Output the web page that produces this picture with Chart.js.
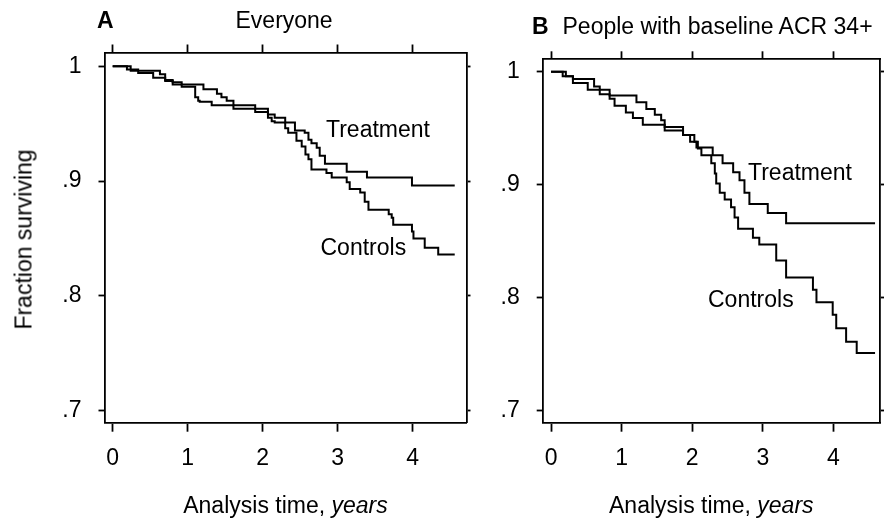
<!DOCTYPE html>
<html>
<head>
<meta charset="utf-8">
<script src="https://cdn.jsdelivr.net/npm/chart.js@4.4.1/dist/chart.umd.min.js"></script>
<style>
  body { margin: 0; background: #fff; }
  #wrap { position: relative; width: 885px; height: 521px; overflow: hidden; }
  canvas { position: absolute; top: 0; }
  .lbl { position: absolute; font: 23px "Liberation Sans", Arial, Helvetica, sans-serif; line-height: 23px; color: #000; white-space: nowrap; }
  .b { font-weight: bold; }
  .ctr { width: 400px; text-align: center; }
</style>
</head>
<body>
<div id="wrap">
  <canvas id="chartA" width="475" height="521" style="left:0"></canvas>
  <canvas id="chartB" width="410" height="521" style="left:475px"></canvas>

  <div class="lbl b" style="left:97px;top:8.5px">A</div>
  <div class="lbl" style="left:235.5px;top:8.5px">Everyone</div>
  <div class="lbl b" style="left:532px;top:14.8px">B</div>
  <div class="lbl" style="left:562.5px;top:14.8px">People with baseline ACR 34+</div>

  <div class="lbl" style="left:326px;top:118px">Treatment</div>
  <div class="lbl" style="left:320.5px;top:236.3px">Controls</div>
  <div class="lbl" style="left:748px;top:160.7px">Treatment</div>
  <div class="lbl" style="left:708px;top:287.5px">Controls</div>

  <div class="lbl ctr" style="left:85.5px;top:493.5px">Analysis time, <i>years</i></div>
  <div class="lbl ctr" style="left:511.3px;top:493.5px">Analysis time, <i>years</i></div>
  <div class="lbl ctr" style="left:-176px;top:227.5px;transform:rotate(-90deg)">Fraction surviving</div>
</div>

<script>
// axis ticks
var xTicks = [0, 1, 2, 3, 4];
var yTicks = [0.7, 0.8, 0.9, 1];

// A: everyone
var timeTreatA = [0, 0.24, 0.63, 0.70, 0.80, 0.92, 1.21, 1.39, 1.45, 1.52, 1.61, 1.90, 2.07, 2.16, 2.30, 2.43, 2.56, 2.61, 2.65, 2.72, 2.76, 2.83, 3.12, 3.39, 3.99, 4.56];
var survTreatA = [1, 0.996, 0.993, 0.988, 0.986, 0.984, 0.980, 0.976, 0.973, 0.970, 0.966, 0.963, 0.958, 0.955, 0.951, 0.944, 0.942, 0.936, 0.933, 0.929, 0.922, 0.915, 0.908, 0.903, 0.896, 0.896];
var timeCtrlA = [0, 0.19, 0.34, 0.54, 0.70, 0.80, 0.92, 1.10, 1.14, 1.16, 1.32, 1.61, 1.90, 2.07, 2.12, 2.16, 2.30, 2.34, 2.45, 2.52, 2.57, 2.61, 2.65, 2.85, 2.92, 3.12, 3.16, 3.30, 3.36, 3.41, 3.68, 3.72, 3.74, 3.99, 4.01, 4.16, 4.34, 4.56];
var survCtrlA = [1, 0.997, 0.994, 0.990, 0.987, 0.984, 0.982, 0.973, 0.970, 0.969, 0.966, 0.963, 0.960, 0.955, 0.952, 0.951, 0.946, 0.942, 0.935, 0.930, 0.923, 0.919, 0.910, 0.907, 0.903, 0.899, 0.893, 0.890, 0.882, 0.875, 0.871, 0.868, 0.862, 0.856, 0.850, 0.842, 0.836, 0.836];

// B: baseline ACR 34+
var timeTreatB = [0, 0.21, 0.31, 0.61, 0.69, 0.83, 1.21, 1.35, 1.47, 1.56, 1.61, 1.87, 1.97, 2.06, 2.29, 2.43, 2.58, 2.67, 2.74, 2.81, 3.07, 3.33, 4.59];
var survTreatB = [1, 0.996, 0.9935, 0.987, 0.984, 0.979, 0.973, 0.967, 0.962, 0.957, 0.951, 0.944, 0.938, 0.933, 0.926, 0.919, 0.911, 0.904, 0.893, 0.883, 0.875, 0.866, 0.866];
var timeCtrlB = [0, 0.165, 0.31, 0.52, 0.69, 0.83, 0.90, 1.06, 1.16, 1.30, 1.61, 1.87, 2.03, 2.08, 2.13, 2.27, 2.32, 2.34, 2.39, 2.46, 2.55, 2.60, 2.65, 2.86, 2.95, 3.19, 3.33, 3.71, 3.76, 3.99, 4.04, 4.18, 4.33, 4.59];
var survCtrlB = [1, 0.996, 0.990, 0.984, 0.980, 0.976, 0.970, 0.964, 0.959, 0.953, 0.948, 0.944, 0.938, 0.932, 0.926, 0.919, 0.910, 0.901, 0.893, 0.887, 0.880, 0.871, 0.861, 0.853, 0.847, 0.833, 0.818, 0.807, 0.796, 0.785, 0.773, 0.761, 0.751, 0.751];

Chart.defaults.font.family = '"Liberation Sans", Arial, Helvetica, sans-serif';
Chart.defaults.font.size = 23;
Chart.defaults.color = '#000';

function pts(t, s) {
    return t.map(function (v, i) { return { x: v, y: s[i] }; });
}

function curve(data) {
    return { data: data, borderColor: '#000', borderWidth: 2, pointRadius: 0, stepped: true, fill: false };
}

// box = plot frame inside the canvas, so both panels line up with the picture
function drawPanel(id, treat, ctrl, xr, yr, box) {
    var canvas = document.getElementById(id);
    var W = canvas.width, H = canvas.height;
    var tickX = function (s) { s.ticks = xTicks.map(function (v) { return { value: v }; }); };
    var tickY = function (s) { s.ticks = yTicks.map(function (v) { return { value: v }; }); };
    var line = { color: '#000', width: 1.8 };
    return new Chart(canvas.getContext('2d'), {
        type: 'line',
        data: { datasets: [curve(treat), curve(ctrl)] },
        options: {
            responsive: false,
            animation: false,
            devicePixelRatio: 1,
            layout: { padding: 0 },
            plugins: { legend: { display: false }, tooltip: { enabled: false } },
            scales: {
                x: {
                    type: 'linear', position: 'bottom', min: xr[0], max: xr[1],
                    afterBuildTicks: tickX,
                    afterFit: function (s) { s.height = H - box.bottom; },
                    ticks: { padding: 13, autoSkip: false, maxRotation: 0, callback: function (v) { return String(v); } },
                    grid: { drawOnChartArea: false, tickLength: 9, tickWidth: 1.8, tickColor: '#000' },
                    border: line
                },
                x2: {
                    type: 'linear', position: 'top', min: xr[0], max: xr[1],
                    afterBuildTicks: tickX,
                    afterFit: function (s) { s.height = box.top; },
                    ticks: { display: false },
                    grid: { drawOnChartArea: false, tickLength: 8, tickWidth: 1.8, tickColor: '#000' },
                    border: line
                },
                y: {
                    type: 'linear', position: 'left', min: yr[0], max: yr[1],
                    afterBuildTicks: tickY,
                    afterFit: function (s) { s.width = box.left; },
                    ticks: {
                        padding: 17, autoSkip: false,
                        callback: function (v) { return v >= 1 ? '1' : '.' + Math.round(v * 10); }
                    },
                    grid: { drawOnChartArea: false, tickLength: 6, tickWidth: 1.8, tickColor: '#000' },
                    border: line
                },
                y2: {
                    type: 'linear', position: 'right', min: yr[0], max: yr[1],
                    afterBuildTicks: tickY,
                    afterFit: function (s) { s.width = W - box.right; },
                    ticks: { display: false },
                    grid: { drawOnChartArea: false, tickLength: 4, tickWidth: 1.8, tickColor: '#000' },
                    border: line
                }
            }
        }
    });
}

drawPanel('chartA', pts(timeTreatA, survTreatA), pts(timeCtrlA, survCtrlA),
    [-0.109, 4.717], [0.6896, 1.0119],
    { left: 104.5, right: 466.5, top: 52.5, bottom: 422.7 });

drawPanel('chartB', pts(timeTreatB, survTreatB), pts(timeCtrlB, survCtrlB),
    [-0.118, 4.660], [0.6894, 1.0110],
    { left: 67.7, right: 405, top: 59.3, bottom: 422.7 });
</script>
</body>
</html>
